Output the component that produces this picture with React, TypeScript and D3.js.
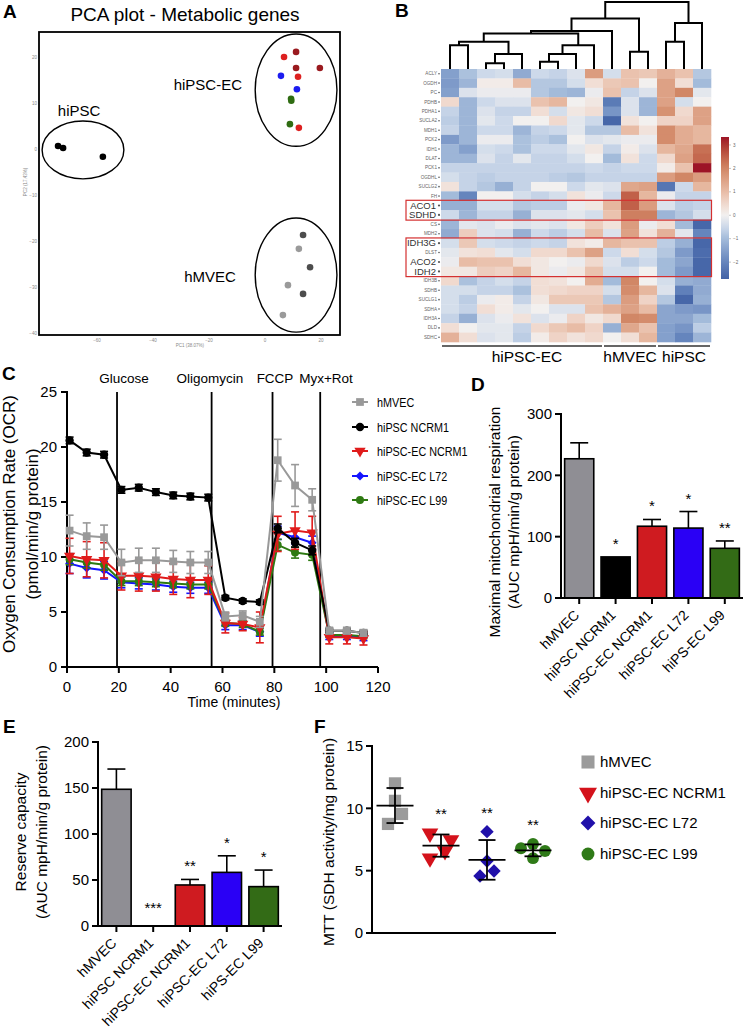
import React from 'react';
import * as d3 from 'd3';

const FONT = '"Liberation Sans", Arial, Helvetica, sans-serif';

// ---------------- Panel A: PCA ----------------
const pcaPC1 = [-73.9, -72.1, -57.9, 11.1, 11.1, 19.6, 6.8, 11.8, 12.1, 5.7, 11.4, 9.3, 9.4, 8.9, 13.6, 16.1, 13.6, 12.1, 8.2, 6.4];
const pcaPC2 = [0.65, 0.2, -1.7, 21.1, 17.6, 17.6, 20.0, 15.7, 4.6, 15.9, 13.0, 10.9, 10.5, 5.4, -18.7, -25.7, -31.5, -21.7, -29.6, -36.1];
const pcaSample = ['hiPSC', 'hiPSC', 'hiPSC', 'ECa', 'ECa', 'ECa', 'ECb', 'ECb', 'ECb', 'L72', 'L72', 'L99', 'L99', 'L99', 'MVa', 'MVa', 'MVa', 'MVb', 'MVb', 'MVb'];
const pcaSampleColors: Record<string, string> = { hiPSC: '#000000', ECa: '#9a1a1f', ECb: '#dd2020', L72: '#1c1cf0', L99: '#2f6c12', MVa: '#4d4d4d', MVb: '#9a9a9a' };
const pcaClusters = ['hiPSC', 'hiPSC-EC', 'hMVEC'];
const pcaClusterCX = [-65.0, 11.1, 11.1];
const pcaClusterCY = [-0.2, 12.8, -27.4];
const pcaClusterRX = [14.6, 14.6, 14.6];
const pcaClusterRY = [6.3, 12.2, 12.4];
const pcaLabelX = [-66.4, -20.4, -19.6];
const pcaLabelY = [8.3, 13.9, -27.8];
const pcaXTicks = [-60, -40, -20, 0, 20];
const pcaYTicks = [20, 10, 0, -10, -20, -30, -40];

// ---------------- Panel B: heatmap ----------------
const heatGenes = ['ACLY', 'OGDH', 'PC', 'PDHB', 'PDHA1', 'SUCLA2', 'MDH1', 'PCK2', 'IDH1', 'DLAT', 'PCK1', 'OGDHL', 'SUCLG2', 'FH', 'ACO1', 'SDHD', 'CS', 'MDH2', 'IDH3G', 'DLST', 'ACO2', 'IDH2', 'IDH3B', 'SDHB', 'SUCLG1', 'SDHA', 'IDH3A', 'DLD', 'SDHC'];
const heatHighlighted = ['ACO1', 'SDHD', 'IDH3G', 'ACO2', 'IDH2'];
const heatValues = [
  [-1.5, -0.9, -0.5, -0.4, -1.3, -0.5, -0.6, -0.3, 1.6, -0.4, 0.9, 0.8, 1.2, 0.9, -0.8],
  [-1.6, -1.1, 0.1, 0.1, 1.0, -0.8, -0.8, -0.4, 0.4, 0.8, 0.9, 0.0, 1.5, 0.4, -1.0],
  [-1.5, -0.3, -0.1, -0.1, -0.1, -0.8, -1.0, -1.1, -0.1, 0.9, -0.6, -0.3, 1.5, 2.0, -0.2],
  [0.5, -1.1, -0.5, -0.3, -0.3, 0.9, 1.1, 0.0, 0.2, -2.2, -0.3, -1.1, 1.5, -0.4, 0.0],
  [-0.6, -1.1, -0.3, -0.6, -0.6, 0.4, -0.4, 0.2, 0.4, -1.7, -0.3, -1.1, 1.8, 0.5, 1.5],
  [-0.7, -1.1, -0.2, -0.5, 0.0, 0.0, 0.5, -0.2, -0.5, -2.6, 0.3, 0.0, 0.6, 0.6, 1.5],
  [-0.6, -1.1, -0.5, -0.5, -1.1, -0.6, -0.5, -0.2, -0.8, -0.8, 1.0, 0.3, 1.9, 1.3, 1.1],
  [-1.6, -1.1, -0.1, -0.1, -0.9, -0.7, -0.9, 0.0, -0.3, -0.2, -0.1, -0.1, 1.9, 1.3, 1.1],
  [-1.1, -1.5, -0.4, -0.5, -0.9, -0.5, -0.5, -0.2, 0.2, -0.6, 0.1, -0.3, 1.1, 1.4, 2.3],
  [-1.1, -1.1, -0.3, -0.6, -0.2, -0.6, -0.6, -0.4, 0.0, -1.0, 0.3, -0.5, 0.5, 1.5, 2.4],
  [-0.6, -0.6, -0.6, -0.6, -0.6, -0.6, -0.6, -0.6, -0.5, -0.6, -0.5, -0.5, 0.1, 0.9, 3.3],
  [-0.4, -0.6, -0.7, -0.6, -0.6, -0.6, -0.7, -0.8, -0.6, -0.6, -0.6, -0.6, 1.6, 2.0, 1.6],
  [0.3, -0.6, -0.8, -1.2, -0.6, 0.0, 0.0, -0.5, -0.2, -0.3, 1.4, 1.5, -2.3, -0.5, 1.1],
  [-1.0, -2.0, 0.0, 0.0, -0.4, -0.6, -0.4, 0.3, -0.1, -0.5, 2.5, 1.1, -0.1, -0.6, -0.6],
  [-1.2, -1.2, -0.4, -0.4, -0.8, -0.7, -0.7, -0.1, 0.2, 1.1, 2.5, 1.6, -0.3, -0.7, -0.6],
  [-0.5, -1.1, -0.6, -0.6, -1.2, -0.3, -0.3, -0.2, -0.4, 0.9, 2.1, 2.1, -1.1, -0.8, -0.4],
  [-1.1, -0.2, -0.3, -0.1, -0.3, -0.2, -0.3, 0.2, 0.7, 0.3, 1.6, -0.1, 0.4, -1.0, -2.6],
  [-1.3, 0.7, -0.3, -0.4, -1.2, -0.5, -0.7, -0.4, 1.0, -0.3, 1.5, 0.3, 1.2, -0.2, -2.0],
  [-0.4, 0.8, -0.4, -0.5, -0.6, -0.5, -0.6, 0.3, 0.1, 1.1, 0.9, 0.9, -0.7, -1.2, -2.6],
  [-0.2, 0.3, 0.4, -0.2, -0.4, 0.5, 0.5, 0.9, 1.5, -0.5, 0.4, -0.4, -0.8, -1.6, -2.5],
  [-0.1, 1.0, 0.9, 0.9, 0.4, 0.2, 0.0, -0.1, 0.5, -0.3, -0.7, -0.5, -1.0, -1.4, -2.6],
  [0.2, 0.2, 0.7, 0.6, 1.1, 0.2, -0.1, 0.2, 0.9, -0.4, -0.4, 0.0, -1.0, -1.6, -2.6],
  [0.5, -0.9, -0.6, -0.4, -0.6, 0.4, 0.3, 0.0, 1.3, -1.0, 2.0, 0.0, -0.4, -1.2, -1.3],
  [-0.4, -0.4, -0.6, -0.6, -0.9, 0.4, 0.5, 0.6, 0.6, -0.4, 1.9, 1.1, -0.3, -2.1, -1.3],
  [-0.4, -0.7, -0.1, 0.1, -0.6, 0.2, 0.8, 0.8, 0.8, -0.8, 1.6, 0.6, -0.8, -2.6, -1.2],
  [-0.4, -0.6, 0.4, 0.1, -0.2, 0.0, -0.3, -0.3, 0.9, 1.2, 1.5, 1.0, -1.4, -1.6, -1.7],
  [-0.6, -1.2, -0.3, -0.1, 0.3, -0.3, -0.1, 0.6, 0.2, 0.5, 2.0, 1.9, -1.4, -1.4, -1.0],
  [0.4, 0.0, -0.2, -0.2, -0.6, 0.5, 0.8, 1.0, 0.6, -1.2, 1.4, 0.9, -1.5, -1.7, -0.7],
  [1.2, 0.4, -0.3, -0.2, -0.7, 0.1, 0.6, 0.3, 0.5, 0.0, 0.4, 1.1, -1.5, -2.0, -1.1],
];
// dendrogram merges (leaves 0..14, clusters numbered from 15)
const dendroLeft = [0, 2, 16, 15, 5, 19, 20, 18, 22, 10, 23, 12, 26, 25];
const dendroRight = [1, 3, 4, 17, 6, 7, 8, 21, 9, 11, 24, 13, 14, 27];
const dendroHeight = [3.56, 0.84, 2.23, 4.06, 1.09, 2.23, 3.56, 5.3, 5.69, 2.57, 7.52, 4.06, 6.88, 10];
const heatGroups = ['hiPSC-EC', 'hMVEC', 'hiPSC'];
const heatGroupStart = [0, 9, 12];
const heatGroupEnd = [8, 11, 14];
const colorbarTicks = [3, 2, 1, 0, -1, -2];

// ---------------- Panel C: OCR ----------------
const ocrTime = [1, 7.6, 14.3, 21, 27.7, 34.3, 41, 47.6, 54.5, 61.1, 67.8, 74.4, 81.3, 88, 94.6, 101.2, 108, 114.4];
const ocrHMVEC = [12.4, 11.9, 11.8, 9.5, 9.7, 9.7, 9.6, 9.5, 9.5, 4.6, 4.7, 4.1, 18.8, 16.5, 15.2, 3.3, 3.3, 3.1];
const ocrHMVECErr = [1.4, 1.2, 1.1, 1.2, 1.1, 1.1, 1.0, 1.0, 1.0, 0.4, 0.4, 0.5, 1.9, 1.9, 1.0, 0.3, 0.3, 0.3];
const ocrHiPSC = [20.6, 19.5, 19.3, 16.1, 16.3, 15.9, 15.6, 15.5, 15.4, 6.3, 6.0, 5.9, 12.6, 11.3, 10.6, 3.3, 3.3, 3.1];
const ocrHiPSCErr = [0.3, 0.3, 0.3, 0.3, 0.3, 0.3, 0.3, 0.3, 0.3, 0.2, 0.2, 0.2, 0.4, 0.4, 0.4, 0.2, 0.2, 0.2];
const ocrNCRM1 = [10.1, 9.8, 9.7, 8.3, 8.3, 8.2, 8.0, 7.9, 7.9, 4.0, 3.9, 3.6, 12.1, 12.4, 12.2, 2.7, 2.7, 2.6];
const ocrNCRM1Err = [1.6, 1.6, 1.6, 1.3, 1.4, 1.3, 1.4, 1.6, 1.3, 0.9, 0.6, 1.4, 1.6, 1.7, 1.5, 0.6, 0.6, 0.6];
const ocrL72 = [9.4, 9.0, 8.8, 7.7, 7.6, 7.5, 7.3, 7.2, 7.2, 3.8, 3.8, 3.2, 12.2, 11.8, 11.3, 2.8, 2.8, 2.7];
const ocrL72Err = [0.9, 0.9, 0.8, 0.5, 0.5, 0.5, 0.5, 0.5, 0.5, 0.4, 0.4, 0.4, 0.6, 0.6, 0.6, 0.3, 0.3, 0.3];
const ocrL99 = [9.8, 9.5, 9.3, 7.8, 7.8, 7.7, 7.6, 7.5, 7.5, 4.0, 3.9, 3.2, 11.1, 10.4, 10.2, 2.9, 2.9, 2.8];
const ocrL99Err = [0.5, 0.5, 0.5, 0.4, 0.4, 0.4, 0.4, 0.4, 0.4, 0.3, 0.3, 0.3, 0.5, 0.5, 0.5, 0.2, 0.2, 0.2];
const injectionNames = ['Glucose', 'Oligomycin', 'FCCP', 'Myx+Rot'];
const injectionTimes = [19.3, 55.8, 79.3, 97.7];
const ocrXTicks = [0, 20, 40, 60, 80, 100, 120];
const ocrYTicks = [0, 5, 10, 15, 20, 25];

// ---------------- Panels D & E: bars ----------------
const cellLines = ['hMVEC', 'hiPSC NCRM1', 'hiPSC-EC NCRM1', 'hiPSC-EC L72', 'hiPS-EC L99'];
const barColors = ['#8f8e94', '#000000', '#cf1b20', '#2a00f5', '#336b16'];
const maxResp = [227, 67, 117, 114, 81];
const maxRespErr = [26, 0, 11, 27, 12];
const maxRespSig = ['', '*', '*', '*', '**'];
const maxRespTicks = [0, 100, 200, 300];
const reserveCap = [148.6, 0, 44.6, 58.3, 42.8];
const reserveErr = [22, 0, 6, 18, 18];
const reserveSig = ['', '***', '**', '*', '*'];
const reserveTicks = [0, 50, 100, 150, 200];

// ---------------- Panel F: MTT ----------------
const mttGroups = ['hMVEC', 'hiPSC-EC NCRM1', 'hiPSC-EC L72', 'hiPSC-EC L99'];
const mttHMVEC = [12.0, 10.6, 9.55, 8.75];
const mttNCRM1 = [8.0, 7.46, 6.58, 6.0];
const mttL72 = [8.13, 5.78, 4.98, 4.57];
const mttL99 = [7.14, 6.8, 6.58, 6.0];
const mttJitter = [[0, 0, 7, -7], [-11, 10, 4, -11], [0, 0, 7, -7], [0, -12, 12, 0]];
const mttSig = ['', '**', '**', '**'];
const mttColors = ['#9b9b9b', '#d4121b', '#2010aa', '#2f7a18'];
const mttShapes = ['square', 'triangleDown', 'diamond', 'circle'];
const mttTicks = [0, 5, 10, 15];

// ---------------- helpers ----------------
function symbolPath(shape: string, size: number) {
  if (shape === 'square') return d3.symbol().type(d3.symbolSquare).size(size)() as string;
  if (shape === 'circle') return d3.symbol().type(d3.symbolCircle).size(size)() as string;
  if (shape === 'triangleDown' || shape === 'triangle') return d3.symbol().type(d3.symbolTriangle).size(size)() as string;
  return d3.symbol().type(d3.symbolSquare).size(size)() as string;
}
function Marker({ shape, x, y, size, fill }: { shape: string; x: number; y: number; size: number; fill: string }) {
  const rot = shape === 'triangleDown' ? 180 : shape === 'diamond' ? 45 : 0;
  return <path d={symbolPath(shape, size)} transform={`translate(${x},${y}) rotate(${rot})`} fill={fill} />;
}

// ---------------- Panel A ----------------
function PanelA() {
  const x = d3.scaleLinear().domain([-80.71, 26.79]).range([39, 340]);
  const y = d3.scaleLinear().domain([-40.43, 25.43]).range([335, 32]);
  return (
    <g>
      <text x={3} y={18} fontSize={19} fontWeight="bold">A</text>
      <text x={185} y={21} fontSize={19} textAnchor="middle">PCA plot - Metabolic genes</text>
      <rect x={39} y={32} width={301} height={303} fill="none" stroke="#000" strokeWidth={1.8} />
      {pcaXTicks.map((t) => (
        <text key={'xt' + t} x={x(t)} y={342} fontSize={4.5} fill="#888" textAnchor="middle">{'\u2212' === '' ? t : String(t).replace('-', '\u2212')}</text>
      ))}
      {pcaYTicks.map((t) => (
        <text key={'yt' + t} x={37} y={y(t)} dy="0.35em" fontSize={4.5} fill="#888" textAnchor="end">{String(t).replace('-', '\u2212')}</text>
      ))}
      <text x={190} y={347} fontSize={4.5} fill="#888" textAnchor="middle">PC1 (38.07%)</text>
      <text transform={`translate(27,182) rotate(-90)`} fontSize={4.5} fill="#888" textAnchor="middle">PC2 (17.43%)</text>
      {pcaClusters.map((c, i) => (
        <ellipse key={c} cx={x(pcaClusterCX[i])} cy={y(pcaClusterCY[i])} rx={x(pcaClusterCX[i] + pcaClusterRX[i]) - x(pcaClusterCX[i])} ry={y(pcaClusterCY[i]) - y(pcaClusterCY[i] + pcaClusterRY[i])} fill="none" stroke="#000" strokeWidth={1.4} />
      ))}
      {pcaPC1.map((v, i) => (
        <circle key={i} cx={x(v)} cy={y(pcaPC2[i])} r={3.3} fill={pcaSampleColors[pcaSample[i]]} />
      ))}
      {pcaClusters.map((c, i) => (
        <text key={'l' + c} x={x(pcaLabelX[i])} y={y(pcaLabelY[i])} dy="0.35em" fontSize={15} textAnchor="middle">{c}</text>
      ))}
    </g>
  );
}

// ---------------- Panel B ----------------
function PanelB() {
  const cols = d3.range(15);
  const x = d3.scaleBand<number>().domain(cols).range([441, 711]);
  const y = d3.scaleBand<string>().domain(heatGenes).range([69, 342]);
  const color = d3
    .scaleLinear<string>()
    .domain([-2.7, -2.0, -1.0, -0.5, 0, 0.5, 1.0, 2.0, 2.6, 3.3])
    .range(['#4262a6', '#6585bd', '#a3bbda', '#cdd9ea', '#f2f0ef', '#f0d9ce', '#e8bca6', '#d18766', '#bd5843', '#9d1426'])
    .interpolate(d3.interpolateLab)
    .clamp(true);
  const hs = d3.scaleLinear().domain([0, 10]).range([69, 2]);
  const pos: { x: number; h: number }[] = cols.map((i) => ({ x: (x(i) as number) + x.bandwidth() / 2, h: 0 }));
  const segs: string[] = [];
  dendroLeft.forEach((l, k) => {
    const r = dendroRight[k];
    const hh = dendroHeight[k];
    const a = pos[l];
    const b = pos[r];
    segs.push(`M${a.x},${hs(a.h)}V${hs(hh)}H${b.x}V${hs(b.h)}`);
    pos.push({ x: (a.x + b.x) / 2, h: hh });
  });
  const cb = d3.scaleLinear().domain([-2.72, 3.34]).range([279, 137]);
  const stops = d3.range(0, 1.0001, 0.05).map((t) => ({ t, c: color(-2.72 + t * (3.34 + 2.72)) }));
  const bw = y.bandwidth();
  const boxes = [
    ['ACO1', 'SDHD'],
    ['IDH3G', 'IDH2'],
  ];
  return (
    <g>
      <text x={395} y={17} fontSize={19} fontWeight="bold">B</text>
      <path d={segs.join('')} fill="none" stroke="#000" strokeWidth={2} />
      {heatValues.map((row, ri) =>
        row.map((v, ci) => (
          <rect key={ri + '-' + ci} x={x(ci)} y={y(heatGenes[ri])} width={x.bandwidth() + 0.3} height={bw + 0.3} fill={color(v)} />
        ))
      )}
      {heatGenes.map((g) => {
        const big = heatHighlighted.includes(g);
        return (
          <g key={g}>
            <text x={big ? 436 : 437} y={(y(g) as number) + bw / 2} dy="0.35em" fontSize={big ? 9.5 : 4.6} fill={big ? '#333' : '#666'} textAnchor="end">{g}</text>
            <circle cx={439} cy={(y(g) as number) + bw / 2} r={big ? 1.1 : 0.8} fill="#555" />
          </g>
        );
      })}
      {boxes.map(([a, b]) => (
        <rect key={a} x={406} y={(y(a) as number) - 0.5} width={305.5} height={(y(b) as number) + bw - (y(a) as number) + 1} fill="none" stroke="#d43030" strokeWidth={1.2} />
      ))}
      <defs>
        <linearGradient id="cbgrad" x1="0" y1="1" x2="0" y2="0">
          {stops.map((s) => (
            <stop key={s.t} offset={s.t} stopColor={s.c} />
          ))}
        </linearGradient>
      </defs>
      <rect x={721} y={137} width={8} height={142} fill="url(#cbgrad)" />
      {colorbarTicks.map((t) => (
        <g key={t}>
          <line x1={729} x2={731} y1={cb(t)} y2={cb(t)} stroke="#888" strokeWidth={0.5} />
          <text x={733} y={cb(t)} dy="0.35em" fontSize={4.6} fill="#666">{String(t).replace('-', '\u2212')}</text>
        </g>
      ))}
      {heatGroups.map((g, i) => {
        const x0 = (x(heatGroupStart[i]) as number) + 1;
        const x1 = (x(heatGroupEnd[i]) as number) + x.bandwidth() - 1;
        return (
          <g key={g}>
            <line x1={x0} x2={x1} y1={346} y2={346} stroke="#333" strokeWidth={1.5} />
            <text x={(x0 + x1) / 2 + (i === 0 ? 5 : 0)} y={362} fontSize={15.5} textAnchor="middle">{g}</text>
          </g>
        );
      })}
    </g>
  );
}

// ---------------- Panel C ----------------
function PanelC() {
  const x = d3.scaleLinear().domain([0, 120]).range([67, 378]);
  const y = d3.scaleLinear().domain([0, 25]).range([667, 392]);
  const series = [
    { name: 'hiPSC-EC L72', v: ocrL72, e: ocrL72Err, color: '#1414ff', shape: 'diamond', size: 40 },
    { name: 'hiPSC-EC L99', v: ocrL99, e: ocrL99Err, color: '#2e7a12', shape: 'circle', size: 50 },
    { name: 'hiPSC-EC NCRM1', v: ocrNCRM1, e: ocrNCRM1Err, color: '#e01b1b', shape: 'triangleDown', size: 55 },
    { name: 'hiPSC NCRM1', v: ocrHiPSC, e: ocrHiPSCErr, color: '#000000', shape: 'circle', size: 55 },
    { name: 'hMVEC', v: ocrHMVEC, e: ocrHMVECErr, color: '#999999', shape: 'square', size: 60 },
  ];
  const legendOrder = ['hMVEC', 'hiPSC NCRM1', 'hiPSC-EC NCRM1', 'hiPSC-EC L72', 'hiPSC-EC L99'];
  const legendY = [402, 427, 451, 476, 500];
  const line = d3.line<number>().x((_, i) => x(ocrTime[i])).y((d) => y(d));
  return (
    <g>
      <text x={2} y={380} fontSize={19} fontWeight="bold">C</text>
      {/* axes */}
      <line x1={67} x2={67} y1={391} y2={668} stroke="#000" strokeWidth={2} />
      <line x1={66} x2={378} y1={667} y2={667} stroke="#000" strokeWidth={2} />
      {ocrYTicks.map((t) => (
        <g key={'y' + t}>
          <line x1={61} x2={67} y1={y(t)} y2={y(t)} stroke="#000" strokeWidth={2} />
          <text x={57} y={y(t)} dy="0.36em" fontSize={15} textAnchor="end">{t}</text>
        </g>
      ))}
      {ocrXTicks.map((t) => (
        <g key={'x' + t}>
          <line x1={x(t)} x2={x(t)} y1={667} y2={673} stroke="#000" strokeWidth={2} />
          <text x={x(t)} y={692} fontSize={15} textAnchor="middle">{t}</text>
        </g>
      ))}
      <text x={234} y={707} fontSize={14} textAnchor="middle">Time (minutes)</text>
      <text transform="translate(15,524) rotate(-90)" fontSize={17} textAnchor="middle">Oxygen Consumption Rate (OCR)</text>
      <text transform="translate(38,524) rotate(-90)" fontSize={17} textAnchor="middle">(pmol/min/g protein)</text>
      {injectionNames.map((n, i) => (
        <g key={n}>
          <line x1={x(injectionTimes[i])} x2={x(injectionTimes[i])} y1={y(25)} y2={y(0)} stroke="#000" strokeWidth={1.8} />
        </g>
      ))}
      <text x={124} y={383} fontSize={13.5} textAnchor="middle">Glucose</text>
      <text x={210} y={383} fontSize={13.5} textAnchor="middle">Oligomycin</text>
      <text x={275} y={383} fontSize={13.5} textAnchor="middle">FCCP</text>
      <text x={326} y={383} fontSize={13.5} textAnchor="middle">Myx+Rot</text>
      {series.map((s) => (
        <g key={s.name}>
          <path d={line(s.v) as string} fill="none" stroke={s.color} strokeWidth={2} />
          {s.v.map((v, i) => (
            <g key={i} stroke={s.color} strokeWidth={1.6}>
              <line x1={x(ocrTime[i])} x2={x(ocrTime[i])} y1={y(v - s.e[i])} y2={y(v + s.e[i])} />
              <line x1={x(ocrTime[i]) - 4} x2={x(ocrTime[i]) + 4} y1={y(v + s.e[i])} y2={y(v + s.e[i])} />
              <line x1={x(ocrTime[i]) - 4} x2={x(ocrTime[i]) + 4} y1={y(v - s.e[i])} y2={y(v - s.e[i])} />
            </g>
          ))}
          {s.v.map((v, i) => (
            <Marker key={'m' + i} shape={s.shape} x={x(ocrTime[i])} y={y(v)} size={s.size} fill={s.color} />
          ))}
        </g>
      ))}
      {legendOrder.map((n, i) => {
        const s = series.find((q) => q.name === n)!;
        return (
          <g key={'lg' + n}>
            <line x1={352} x2={368} y1={legendY[i]} y2={legendY[i]} stroke={s.color} strokeWidth={2} />
            <Marker shape={s.shape} x={360} y={legendY[i]} size={s.size} fill={s.color} />
            <text transform={`translate(377,${legendY[i]}) scale(0.8,1)`} dy="0.36em" fontSize={13.5}>{n}</text>
          </g>
        );
      })}
    </g>
  );
}

// ---------------- Bar panel (D, E) ----------------
function BarPanel({ label, lx, ly, values, errs, sig, ticks, yMax, x0, x1, yBottom, yTop, title1, title2, t1x, t2x, tcy }: any) {
  const x = d3.scalePoint<string>().domain(cellLines).range([x0, x1]).padding(0.5);
  const y = d3.scaleLinear().domain([0, yMax]).range([yBottom, yTop]);
  const bw = x.step() * 0.8;
  return (
    <g>
      <text x={lx} y={ly} fontSize={19} fontWeight="bold">{label}</text>
      <text transform={`translate(${t1x},${tcy}) rotate(-90)`} fontSize={15.5} textAnchor="middle">{title1}</text>
      <text transform={`translate(${t2x},${tcy}) rotate(-90)`} fontSize={15.5} textAnchor="middle">{title2}</text>
      {cellLines.map((c, i) => {
        const cx = x(c) as number;
        const top = y(values[i] + errs[i]);
        return (
          <g key={c}>
            {errs[i] > 0 && (
              <g stroke="#000" strokeWidth={1.6}>
                <line x1={cx} x2={cx} y1={y(values[i])} y2={top} />
                <line x1={cx - 9} x2={cx + 9} y1={top} y2={top} />
              </g>
            )}
            {values[i] > 0 && <rect x={cx - bw / 2} y={y(values[i])} width={bw} height={y(0) - y(values[i])} fill={barColors[i]} stroke="#000" strokeWidth={1.6} />}
            {sig[i] && (
              <text x={cx} y={values[i] > 0 ? top - 8 : y(0) - 13} fontSize={15} textAnchor="middle">{sig[i]}</text>
            )}
            <line x1={cx} x2={cx} y1={yBottom} y2={yBottom + 6} stroke="#000" strokeWidth={2} />
            <text transform={`translate(${cx + 1},${yBottom + 18}) rotate(-45)`} fontSize={14} textAnchor="end">{c}</text>
          </g>
        );
      })}
      <line x1={x0} x2={x0} y1={yTop - 1} y2={yBottom + 1} stroke="#000" strokeWidth={2} />
      <line x1={x0 - 1} x2={x1} y1={yBottom} y2={yBottom} stroke="#000" strokeWidth={2} />
      {ticks.map((t: number) => (
        <g key={t}>
          <line x1={x0 - 6} x2={x0} y1={y(t)} y2={y(t)} stroke="#000" strokeWidth={2} />
          <text x={x0 - 9} y={y(t)} dy="0.36em" fontSize={15} textAnchor="end">{t}</text>
        </g>
      ))}
    </g>
  );
}

// ---------------- Panel F ----------------
function PanelF() {
  const x = d3.scalePoint<string>().domain(mttGroups).range([372, 556]).padding(0.5);
  const y = d3.scaleLinear().domain([0, 15]).range([933, 746]);
  const groups = [mttHMVEC, mttNCRM1, mttL72, mttL99];
  const sizes = [150, 120, 90, 110];
  const legendY = [762, 793, 823, 854];
  return (
    <g>
      <text x={314} y={733} fontSize={19} fontWeight="bold">F</text>
      <text transform="translate(334,842) rotate(-90)" fontSize={15.5} textAnchor="middle">MTT (SDH activity/mg protein)</text>
      <line x1={372} x2={372} y1={745} y2={934} stroke="#000" strokeWidth={2} />
      <line x1={371} x2={556} y1={933} y2={933} stroke="#000" strokeWidth={2} />
      {mttTicks.map((t) => (
        <g key={t}>
          <line x1={366} x2={372} y1={y(t)} y2={y(t)} stroke="#000" strokeWidth={2} />
          <text x={363} y={y(t)} dy="0.36em" fontSize={15} textAnchor="end">{t}</text>
        </g>
      ))}
      {mttGroups.map((g, gi) => {
        const cx = x(g) as number;
        const vals = groups[gi];
        const mean = d3.mean(vals) as number;
        const sd = d3.deviation(vals) as number;
        const maxv = d3.max(vals) as number;
        return (
          <g key={g}>
            {vals.map((v, i) => (
              <Marker key={i} shape={mttShapes[gi]} x={cx + mttJitter[gi][i]} y={y(v)} size={sizes[gi]} fill={mttColors[gi]} />
            ))}
            <g stroke="#000" strokeWidth={1.8}>
              <line x1={cx - 18.5} x2={cx + 18.5} y1={y(mean)} y2={y(mean)} />
              <line x1={cx} x2={cx} y1={y(mean - sd)} y2={y(mean + sd)} />
              <line x1={cx - 8.5} x2={cx + 8.5} y1={y(mean + sd)} y2={y(mean + sd)} />
              <line x1={cx - 8.5} x2={cx + 8.5} y1={y(mean - sd)} y2={y(mean - sd)} />
            </g>
            {mttSig[gi] && (
              <text x={cx} y={y(maxv) - 14} fontSize={15} textAnchor="middle">{mttSig[gi]}</text>
            )}
          </g>
        );
      })}
      {mttGroups.map((g, gi) => (
        <g key={'lg' + g}>
          <Marker shape={mttShapes[gi]} x={588} y={legendY[gi]} size={sizes[gi] + 20} fill={mttColors[gi]} />
          <text x={600} y={legendY[gi]} dy="0.36em" fontSize={15}>{g}</text>
        </g>
      ))}
    </g>
  );
}

export default function App() {
  return (
    <svg width={744} height={1030} style={{ position: 'absolute', left: 0, top: 0, background: '#fff' }} fontFamily={FONT}>
      <rect width={744} height={1030} fill="#fff" />
      <PanelA />
      <PanelB />
      <PanelC />
      <BarPanel label="D" lx={471} ly={391} values={maxResp} errs={maxRespErr} sig={maxRespSig} ticks={maxRespTicks} yMax={300} x0={561} x1={743} yBottom={598} yTop={414} title1="Maximal mitochondrial respiration" title2="(AUC mpH/min/g protein)" t1x={500} t2x={519} tcy={522} />
      <BarPanel label="E" lx={3} ly={733} values={reserveCap} errs={reserveErr} sig={reserveSig} ticks={reserveTicks} yMax={200} x0={98} x1={282} yBottom={926} yTop={742} title1="Reserve capacity" title2="(AUC mpH/min/g protein)" t1x={26} t2x={47} tcy={832} />
      <PanelF />
    </svg>
  );
}
